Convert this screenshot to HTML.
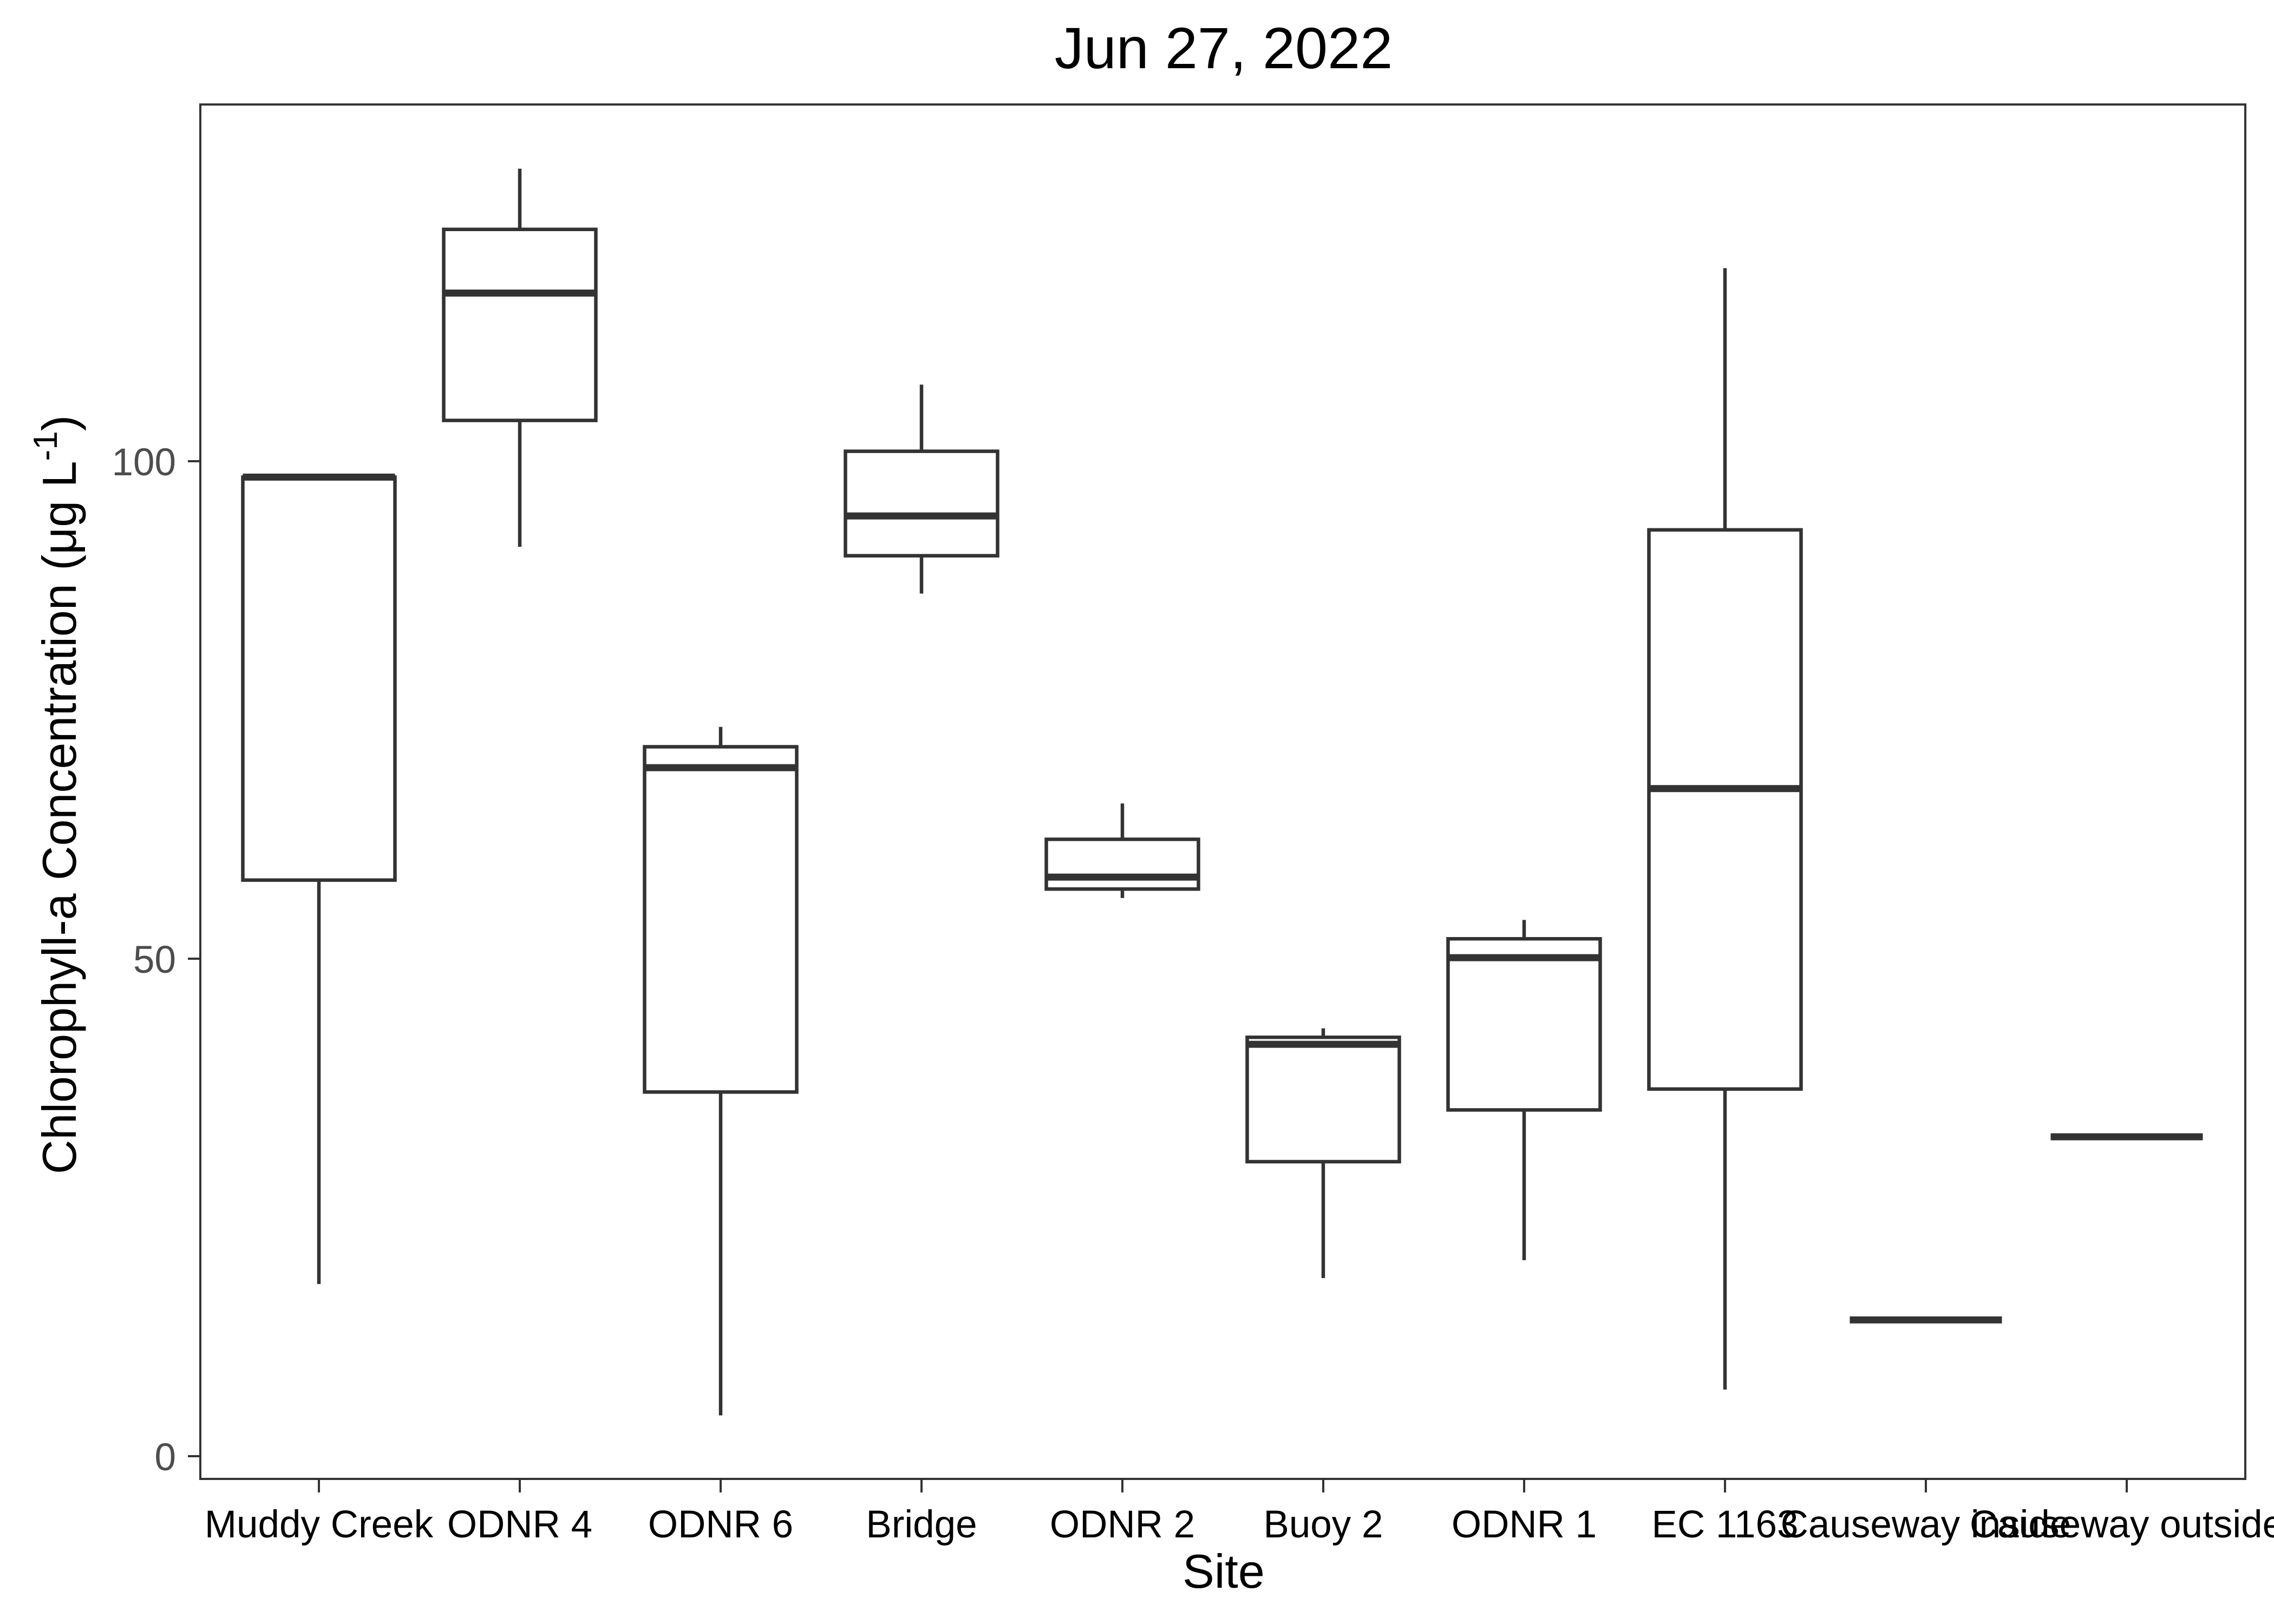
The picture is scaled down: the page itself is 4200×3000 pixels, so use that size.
<!DOCTYPE html>
<html><head><meta charset="utf-8"><style>
html,body{margin:0;padding:0;background:#fff;}
svg{display:block;font-family:"Liberation Sans",Arial,sans-serif;}
</style></head><body>
<svg id="chart" width="4200" height="3000" viewBox="0 0 4200 3000" xmlns="http://www.w3.org/2000/svg">
<rect x="0" y="0" width="4200" height="3000" fill="#fff"/>
<text x="2260" y="126" font-size="108" text-anchor="middle" fill="#000">Jun 27, 2022</text>
<g id="marks"></g>
<g id="axes"></g>
<rect x="370" y="193" width="3777" height="2539" fill="none" stroke="#333" stroke-width="4"/>
<text x="2260" y="2933" font-size="88" text-anchor="middle" fill="#000">Site</text>
<text transform="translate(140,1468) rotate(-90)" font-size="88" text-anchor="middle" fill="#000">Chlorophyll-a Concentration (μg L<tspan font-size="62" dy="-35">-1</tspan><tspan dy="35">)</tspan></text>
</svg>
<script>
const categories = ["Muddy Creek","ODNR 4","ODNR 6","Bridge","ODNR 2","Buoy 2","ODNR 1","EC 1163","Causeway inside","Causeway outside"];
const lowWhisker = [17.3, 91.4, 4.1, 86.7, 56.1, 17.9, 19.7, 6.7, 13.7, 32.1];
const q1 = [57.9, 104.1, 36.6, 90.5, 57.0, 29.6, 34.8, 36.9, 13.7, 32.1];
const median = [98.4, 116.9, 69.2, 94.5, 58.2, 41.4, 50.1, 67.1, 13.7, 32.1];
const q3 = [98.4, 123.3, 71.3, 101.0, 62.0, 42.1, 52.0, 93.1, 13.7, 32.1];
const highWhisker = [98.4, 129.4, 73.3, 107.7, 65.6, 43.0, 53.9, 119.4, 13.7, 32.1];
const yTicks = [0, 50, 100];

const NS = "http://www.w3.org/2000/svg";
function yScale(v){ return 2690 - v * 18.38; }
function xScale(i){ return 589 + i * 371; }
const boxW = 281;
function mk(tag, attrs, parent){
  const e = document.createElementNS(NS, tag);
  for (const k in attrs) e.setAttribute(k, attrs[k]);
  parent.appendChild(e); return e;
}
const marks = document.getElementById('marks');
const axes = document.getElementById('axes');
categories.forEach((c, i) => {
  const g = mk('g', {}, marks);
  
  
  const x = xScale(i);
  if (highWhisker[i] > q3[i]) {
    const w1 = mk('line', {x1:x, x2:x, y1:yScale(highWhisker[i]), y2:yScale(q3[i]), stroke:'#333', 'stroke-width':6.5}, g);
    
    
  }
  if (lowWhisker[i] < q1[i]) {
    const w2 = mk('line', {x1:x, x2:x, y1:yScale(q1[i]), y2:yScale(lowWhisker[i]), stroke:'#333', 'stroke-width':6.5}, g);
    
    
  }
  const r = mk('rect', {x:x - boxW/2, y:yScale(q3[i]), width:boxW, height:Math.max(0, yScale(q1[i]) - yScale(q3[i])), fill:'#fff', stroke:'#333', 'stroke-width':6.5}, g);
  
  
  const m = mk('line', {x1:x - boxW/2, x2:x + boxW/2, y1:yScale(median[i]), y2:yScale(median[i]), stroke:'#333', 'stroke-width':13}, g);
  
  
  const t = mk('line', {x1:x, x2:x, y1:2734, y2:2757, stroke:'#333', 'stroke-width':4}, axes);
  
  
  const lab = mk('text', {x:x, y:2840, 'font-size':71, 'text-anchor':'middle', fill:'#000'}, axes);
  lab.textContent = c;
  
  
});
yTicks.forEach(v => {
  const y = yScale(v);
  const t = mk('line', {x1:347, x2:368, y1:y, y2:y, stroke:'#333', 'stroke-width':4}, axes);
  
  
  const lab = mk('text', {x:325, y:y + 26, 'font-size':71, 'text-anchor':'end', fill:'#4d4d4d'}, axes);
  lab.textContent = v;
  
  
});
</script>
</body></html>
